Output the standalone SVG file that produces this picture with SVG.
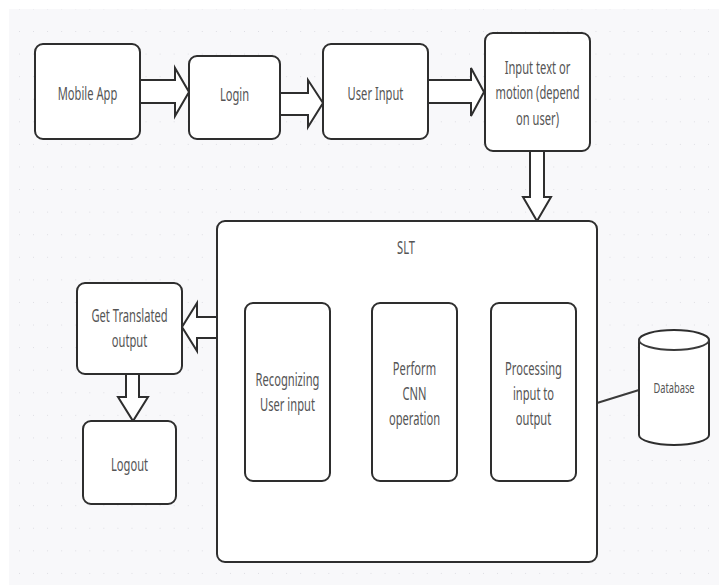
<svg xmlns="http://www.w3.org/2000/svg" width="719" height="585" viewBox="0 0 719 585">
<defs>
<pattern id="dots" x="5.9" y="9.4" width="14.06" height="22.58" patternUnits="userSpaceOnUse">
<rect x="13.3" y="21.6" width="1.6" height="2" fill="#d6d6dd"/>
</pattern>
<style>
.box{fill:#ffffff;stroke:#2e2e2e;stroke-width:2}
.arr{fill:#ffffff;stroke:#2e2e2e;stroke-width:2;stroke-linejoin:miter}
.ln{fill:none;stroke:#3a3a3a;stroke-width:2}
text{font-family:"Noto Sans","Open Sans","DejaVu Sans",sans-serif;font-size:18px;fill:#555555;text-anchor:middle}
.db{font-size:15px}
</style>
</defs>
<rect x="0" y="0" width="719" height="585" fill="#ffffff"/>
<rect x="9" y="9" width="710" height="576" fill="#f8f8fa"/>
<rect x="9" y="9" width="710" height="576" fill="url(#dots)"/>

<g id="connectors">
<path class="arr" d="M140,80 H175 V68 L189,92 L175,116 V103 H140 Z"/>
<path class="arr" d="M280,93 H308 V80 L323,103 L308,127 V115 H280 Z"/>
<path class="arr" d="M428,80 H471 V68 L484,92 L471,116 V103 H428 Z"/>
<path class="arr" d="M530,151 V197 H523 L537,221 L551,197 H544 V151 Z"/>
<path class="arr" d="M217,317 H197 V303 L182,327 L197,351 V338 H217 Z"/>
<path class="arr" d="M126,374 V397 H118 L133,421 L148,397 H139 V374 Z"/>
<path class="ln" d="M597,403 L639,390"/>
</g>

<g id="mobile-app">
<rect class="box" x="35" y="44" width="105" height="95" rx="8"/>
<text transform="translate(87.5,100) scale(0.62,1)">Mobile App</text>
</g>
<g id="login">
<rect class="box" x="189" y="56" width="91" height="83" rx="8"/>
<text transform="translate(234.5,101) scale(0.62,1)">Login</text>
</g>
<g id="user-input">
<rect class="box" x="323" y="44" width="105" height="95" rx="8"/>
<text transform="translate(375.5,100) scale(0.62,1)">User Input</text>
</g>
<g id="input-text">
<rect class="box" x="485" y="33" width="105" height="118" rx="8"/>
<text transform="translate(537.5,74) scale(0.62,1)"><tspan x="0" dy="0">Input text or</tspan><tspan x="0" dy="25.5">motion (depend</tspan><tspan x="0" dy="25.5">on user)</tspan></text>
</g>
<g id="slt">
<rect class="box" x="217" y="221" width="380" height="341" rx="8"/>
<text transform="translate(406,254) scale(0.62,1)">SLT</text>
</g>
<g id="recognizing">
<rect class="box" x="245" y="303" width="85" height="178" rx="8"/>
<text transform="translate(287.5,386) scale(0.62,1)"><tspan x="0" dy="0">Recognizing</tspan><tspan x="0" dy="25">User input</tspan></text>
</g>
<g id="perform-cnn">
<rect class="box" x="372" y="303" width="85" height="178" rx="8"/>
<text transform="translate(414.5,375) scale(0.62,1)"><tspan x="0" dy="0">Perform</tspan><tspan x="0" dy="25">CNN</tspan><tspan x="0" dy="25">operation</tspan></text>
</g>
<g id="processing">
<rect class="box" x="491" y="303" width="85" height="178" rx="8"/>
<text transform="translate(533.5,375) scale(0.62,1)"><tspan x="0" dy="0">Processing</tspan><tspan x="0" dy="25">input to</tspan><tspan x="0" dy="25">output</tspan></text>
</g>
<g id="get-translated">
<rect class="box" x="77" y="283" width="105" height="91" rx="8"/>
<text transform="translate(129.5,322) scale(0.62,1)"><tspan x="0" dy="0">Get Translated</tspan><tspan x="0" dy="25">output</tspan></text>
</g>
<g id="logout">
<rect class="box" x="83" y="421" width="93" height="83" rx="8"/>
<text transform="translate(129.5,471) scale(0.62,1)">Logout</text>
</g>
<g id="database">
<path class="box" d="M639,340 V435 A35,10 0 0 0 709,435 V340 A35,10 0 0 0 639,340 Z"/>
<path class="ln" d="M639,340 A35,10 0 0 0 709,340"/>
<text class="db" transform="translate(674,393) scale(0.62,1)">Database</text>
</g>
</svg>
